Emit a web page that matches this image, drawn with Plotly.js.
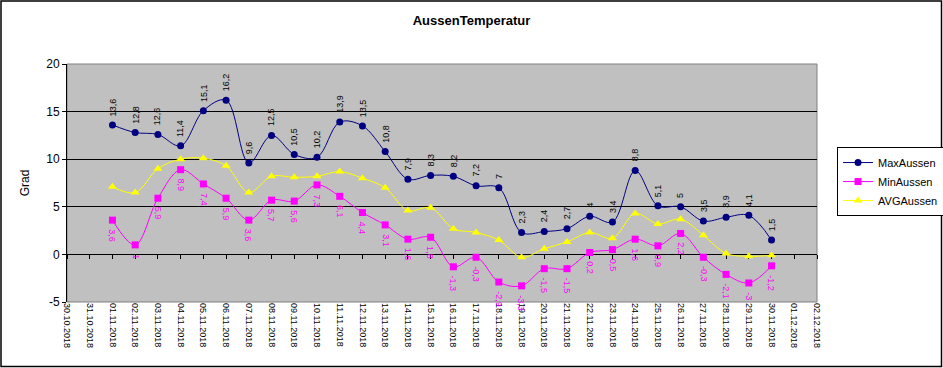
<!DOCTYPE html>
<html>
<head>
<meta charset="utf-8">
<script src="https://cdn.plot.ly/plotly-3.0.1.min.js"></script>
<style>
html,body{margin:0;padding:0;background:#fff;}
#chart{width:943px;height:368px;}
</style>
</head>
<body>
<div id="chart"></div>
<script>
// Axis categories (tick labels)
var axisDates = ["30.10.2018","31.10.2018","01.11.2018","02.11.2018","03.11.2018","04.11.2018","05.11.2018","06.11.2018","07.11.2018","08.11.2018","09.11.2018","10.11.2018","11.11.2018","12.11.2018","13.11.2018","14.11.2018","15.11.2018","16.11.2018","17.11.2018","18.11.2018","19.11.2018","20.11.2018","21.11.2018","22.11.2018","23.11.2018","24.11.2018","25.11.2018","26.11.2018","27.11.2018","28.11.2018","29.11.2018","30.11.2018","01.12.2018","02.12.2018"];
// Data dates
var dataDates = ["01.11.2018","02.11.2018","03.11.2018","04.11.2018","05.11.2018","06.11.2018","07.11.2018","08.11.2018","09.11.2018","10.11.2018","11.11.2018","12.11.2018","13.11.2018","14.11.2018","15.11.2018","16.11.2018","17.11.2018","18.11.2018","19.11.2018","20.11.2018","21.11.2018","22.11.2018","23.11.2018","24.11.2018","25.11.2018","26.11.2018","27.11.2018","28.11.2018","29.11.2018","30.11.2018"];
var maxAussen = [13.6,12.8,12.6,11.4,15.1,16.2,9.6,12.5,10.5,10.2,13.9,13.5,10.8,7.9,8.3,8.2,7.2,7,2.3,2.4,2.7,4,3.4,8.8,5.1,5,3.5,3.9,4.1,1.5];
var minAussen = [3.6,1,5.9,8.9,7.4,5.9,3.6,5.7,5.6,7.3,6.1,4.4,3.1,1.6,1.8,-1.3,-0.3,-2.9,-3.3,-1.5,-1.5,0.2,0.5,1.6,0.9,2.2,-0.3,-2.1,-3,-1.2];
var avgAussen = [7.1,6.5,9.0,10.0,10.1,9.3,6.5,8.2,8.1,8.2,8.7,8.0,7.0,4.6,4.9,2.7,2.3,1.5,-0.3,0.6,1.3,2.3,1.7,4.3,3.2,3.7,2.0,0.1,-0.2,-0.1];
var yTicks = [-5,0,5,10,15,20];

var FONT = "Arial, 'Liberation Sans', sans-serif";
function fmt(v){ return String(v).replace('.', ','); }

var traces = [
  // helper trace on the main (label) axis
  {x:dataDates, y:avgAussen, xaxis:'x', yaxis:'y', type:'scatter', mode:'lines',
   line:{width:0}, opacity:0, showlegend:false, hoverinfo:'skip'},
  {name:'MaxAussen', x:dataDates, y:maxAussen, xaxis:'x2', type:'scatter', mode:'lines+markers',
   line:{color:'#000080', width:1, shape:'spline', smoothing:1},
   marker:{symbol:'circle', size:7, color:'#000080'}, hoverinfo:'skip'},
  {name:'MinAussen', x:dataDates, y:minAussen, xaxis:'x2', type:'scatter', mode:'lines+markers',
   line:{color:'#FF00FF', width:1, shape:'spline', smoothing:1},
   marker:{symbol:'square', size:7, color:'#FF00FF'}, hoverinfo:'skip'},
  {name:'AVGAussen', x:dataDates, y:avgAussen, xaxis:'x2', type:'scatter', mode:'lines+markers',
   line:{color:'#FFFF00', width:1, shape:'spline', smoothing:1},
   marker:{symbol:'triangle-up', size:8, color:'#FFFF00'}, hoverinfo:'skip'}
];

var annotations = [];
dataDates.forEach(function(d,i){
  annotations.push({x:d, y:maxAussen[i], xref:'x', yref:'y', text:fmt(maxAussen[i]),
    showarrow:false, textangle:-90, xanchor:'center', yanchor:'bottom', yshift:7,
    font:{family:FONT, size:9, color:'#000000'}});
  annotations.push({x:d, y:minAussen[i], xref:'x', yref:'y', text:fmt(minAussen[i]),
    showarrow:false, textangle:90, xanchor:'center', yanchor:'top', yshift:-7,
    font:{family:FONT, size:9, color:'#FF00FF'}});
});

var layout = {
  width:943, height:368,
  margin:{l:67, r:126, t:64, b:66, autoexpand:false},
  paper_bgcolor:'#ffffff',
  plot_bgcolor:'#c0c0c0',
  font:{family:FONT, size:11, color:'#000'},
  title:{text:'<b>AussenTemperatur</b>', font:{family:FONT, size:13, color:'#000'},
         x:0.5, xref:'container', xanchor:'center', y:0.944, yref:'container', yanchor:'middle'},
  xaxis:{type:'category', categoryorder:'array', categoryarray:axisDates,
         tickvals:axisDates, ticktext:axisDates, range:[0, axisDates.length-1],
         tickangle:90, ticks:'', showgrid:false, showline:false, zeroline:false,
         tickfont:{family:FONT, size:9, color:'#000'}, fixedrange:true},
  xaxis2:{type:'category', categoryorder:'array', categoryarray:axisDates,
          tickvals:axisDates, range:[0, axisDates.length-1], overlaying:'x',
          anchor:'free', position:0.2, side:'bottom', layer:'below traces',
          showticklabels:false, ticks:'outside', ticklen:4, tickcolor:'#000', tickwidth:1,
          showline:true, linecolor:'#000', linewidth:1, showgrid:false, zeroline:false},
  yaxis:{range:[-5,20], tickvals:yTicks, ticktext:yTicks.map(String),
         showgrid:true, gridcolor:'#000', gridwidth:1, zeroline:false,
         showline:true, linecolor:'#000', linewidth:1,
         ticks:'outside', ticklen:4, tickcolor:'#000',
         tickfont:{family:FONT, size:12, color:'#000'},
         title:{text:'Grad', font:{family:FONT, size:12, color:'#000'}, standoff:14}},
  legend:{x:1.0267, xanchor:'left', y:0.651, yanchor:'top',
          bgcolor:'#ffffff', bordercolor:'#000', borderwidth:1,
          font:{family:FONT, size:11, color:'#000'}, itemwidth:30, tracegroupgap:0},
  showlegend:true,
  annotations:annotations,
  shapes:[
    {type:'rect', xref:'paper', yref:'paper', x0:0, x1:1, y0:0, y1:1,
     line:{color:'#808080', width:1}, fillcolor:'rgba(0,0,0,0)', layer:'below'},
    {type:'rect', xref:'paper', yref:'paper', x0:-0.0880, x1:1.1660, y0:-0.2710, y1:1.2647,
     line:{color:'#000', width:1.5}, fillcolor:'rgba(0,0,0,0)'}
  ]
};

Plotly.newPlot('chart', traces, layout, {displayModeBar:false, staticPlot:true});
</script>
</body>
</html>
